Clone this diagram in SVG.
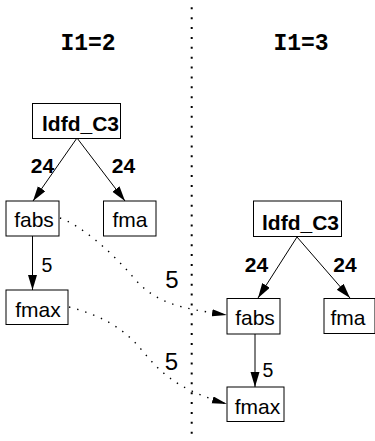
<svg xmlns="http://www.w3.org/2000/svg" width="375" height="441" viewBox="0 0 375 441">
  <style>
    .box { fill: #fff; stroke: #000; stroke-width: 1; }
    .lbl { font-family: "Liberation Sans", Arial, sans-serif; font-size: 21px; text-anchor: middle; fill: #000; }
    .b { font-weight: bold; }
    .ttl { font-family: "Liberation Mono", "Courier New", monospace; font-weight: bold; font-size: 23px; text-anchor: middle; fill: #000; }
    .edge { fill: none; stroke: #000; stroke-width: 1; }
    .dot { fill: none; stroke: #000; stroke-width: 1.4; stroke-dasharray: 1.4 7; }
    .w { font-family: "Liberation Sans", Arial, sans-serif; fill: #000; text-anchor: middle; }
  </style>
  <defs>
    <marker id="head" markerUnits="userSpaceOnUse" markerWidth="16" markerHeight="10" refX="15" refY="4.5" orient="auto">
      <path d="M0,0 L15,4.5 L0,9 z" fill="#000"/>
    </marker>
    <marker id="headThin" markerUnits="userSpaceOnUse" markerWidth="16" markerHeight="8" refX="15" refY="3.5" orient="auto">
      <path d="M0,0 L15,3.5 L0,7 z" fill="#000"/>
    </marker>
  </defs>

  <!-- separator between the two iterations -->
  <line x1="191.7" y1="7.3" x2="191.7" y2="441" stroke="#000" stroke-width="2" stroke-dasharray="2 7.87"/>

  <text class="ttl" x="88" y="50">I1=2</text>
  <text class="ttl" x="301" y="50">I1=3</text>

  <g id="connectors">
    <!-- iteration I1=2 -->
    <line class="edge" x1="77" y1="138" x2="33" y2="201" marker-end="url(#head)"/>
    <line class="edge" x1="77" y1="138" x2="125" y2="201" marker-end="url(#head)"/>
    <line class="edge" x1="32.5" y1="236" x2="32.5" y2="290" marker-end="url(#head)"/>
    <!-- iteration I1=3 -->
    <line class="edge" x1="297" y1="237" x2="258" y2="298" marker-end="url(#head)"/>
    <line class="edge" x1="297" y1="237" x2="350" y2="298" marker-end="url(#head)"/>
    <line class="edge" x1="255" y1="334" x2="255" y2="387" marker-end="url(#head)"/>
    <!-- carried dependences across iterations -->
    <path class="dot" d="M60,218 C80,225 110,250 133,277 S180,308 227,315" marker-end="url(#headThin)"/>
    <path class="dot" d="M69,307 C100,315 122,327 140,348 S172,388 227,404" marker-end="url(#headThin)"/>

    <text class="lbl b" x="42.5" y="173">24</text>
    <text class="lbl b" x="123.5" y="173">24</text>
    <text class="lbl" x="47" y="272" style="font-size:19.5px">5</text>
    <text class="lbl b" x="256.5" y="272">24</text>
    <text class="lbl b" x="345" y="272">24</text>
    <text class="lbl" x="268" y="377" style="font-size:19.5px">5</text>
    <text class="w" x="172" y="288" font-size="24">5</text>
    <text class="w" x="171.5" y="370" font-size="24">5</text>
  </g>

  <g id="ldfd_C3_a">
    <rect class="box" x="32.5" y="103.5" width="88" height="35"/>
    <text class="lbl b" x="80.5" y="131">ldfd_C3</text>
  </g>
  <g id="fabs_a">
    <rect class="box" x="6" y="201" width="53" height="35"/>
    <text class="lbl" x="34" y="227">fabs</text>
  </g>
  <g id="fma_a">
    <rect class="box" x="103.5" y="201" width="52.5" height="35"/>
    <text class="lbl" x="130" y="227">fma</text>
  </g>
  <g id="fmax_a">
    <rect class="box" x="6" y="290" width="62" height="34.5"/>
    <text class="lbl" x="38" y="317">fmax</text>
  </g>

  <g id="ldfd_C3_b">
    <rect class="box" x="253.5" y="201" width="88" height="35.5"/>
    <text class="lbl b" x="300.5" y="230">ldfd_C3</text>
  </g>
  <g id="fabs_b">
    <rect class="box" x="227" y="298.5" width="53" height="35.5"/>
    <text class="lbl" x="255" y="324.5">fabs</text>
  </g>
  <g id="fma_b">
    <rect class="box" x="324" y="298.5" width="51" height="35"/>
    <text class="lbl" x="348" y="324.5">fma</text>
  </g>
  <g id="fmax_b">
    <rect class="box" x="227" y="387" width="57" height="34.5"/>
    <text class="lbl" x="257.5" y="413.5">fmax</text>
  </g>
</svg>
